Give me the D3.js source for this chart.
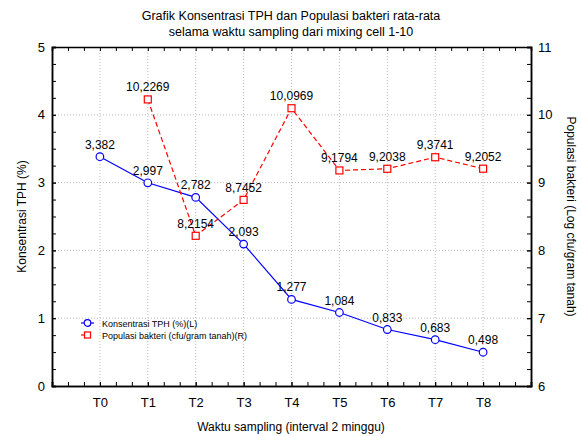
<!DOCTYPE html>
<html lang="en">
<head>
  <meta charset="UTF-8">
  <title>Grafik Konsentrasi TPH</title>
  <script src="https://d3js.org/d3.v7.min.js"></script>
  <style>
    body { margin: 0; background: #fff; }
    svg { font-family: "Liberation Sans", Arial, sans-serif; }
  </style>
</head>
<body>
  <svg width="582" height="436"></svg>

  <script>
    const categories = [`T0`, `T1`, `T2`, `T3`, `T4`, `T5`, `T6`, `T7`, `T8`];
    const tph = [3.382, 2.997, 2.782, 2.093, 1.277, 1.084, 0.833, 0.683, 0.498];
    const bakteri = [null, 10.2269, 8.2154, 8.7452, 10.0969, 9.1794, 9.2038, 9.3741, 9.2052];
    const leftTicks = [0, 1, 2, 3, 4, 5];
    const rightTicks = [6, 7, 8, 9, 10, 11];

    const margin = {top: 47, right: 51, bottom: 50, left: 52};
    const width = 582;
    const height = 436;

    const svg = d3.select(`svg`);
    const fmt = v => v.toString().replace(`.`, `,`);

    const xScale = d3.scaleLinear()
      .domain([-1, categories.length])
      .range([margin.left, width - margin.right]);
    const yLeft = d3.scaleLinear()
      .domain([0, 5])
      .range([height - margin.bottom, margin.top]);
    const yRight = d3.scaleLinear()
      .domain([6, 11])
      .range([height - margin.bottom, margin.top]);

    // grid
    const grid = svg.append(`g`)
      .attr(`stroke`, `#bdbdbd`)
      .attr(`stroke-dasharray`, `1,2`);
    grid.selectAll(`.gx`).data(categories).join(`line`)
      .attr(`x1`, (d, i) => xScale(i)).attr(`x2`, (d, i) => xScale(i))
      .attr(`y1`, margin.top).attr(`y2`, height - margin.bottom);
    grid.selectAll(`.gy`).data(leftTicks.slice(1, -1)).join(`line`)
      .attr(`x1`, margin.left).attr(`x2`, width - margin.right)
      .attr(`y1`, d => yLeft(d)).attr(`y2`, d => yLeft(d));

    // axes: minor ticks on every side, pointing inward
    const minorX = d3.range(-1, categories.length + 0.01, 1 / 3);
    const minorY = d3.range(0, 5.01, 0.25);

    const styleAxis = g => {
      g.select(`.domain`).attr(`stroke`, `#000`).attr(`stroke-width`, 1.5);
      g.selectAll(`.tick line`).attr(`stroke`, `#000`);
      g.selectAll(`text`).attr(`font-size`, 13).attr(`fill`, `#000`)
        .attr(`font-family`, `"Liberation Sans", Arial, sans-serif`);
    };

    svg.append(`g`)
      .attr(`transform`, `translate(0, ${height - margin.bottom})`)
      .call(d3.axisBottom(xScale).tickValues(minorX).tickSize(-4).tickFormat(``))
      .call(styleAxis);
    svg.append(`g`)
      .attr(`transform`, `translate(0, ${height - margin.bottom})`)
      .call(d3.axisBottom(xScale).tickValues(d3.range(categories.length))
        .tickSize(-4).tickPadding(12).tickFormat(i => categories[i]))
      .call(styleAxis);
    svg.append(`g`)
      .attr(`transform`, `translate(0, ${margin.top})`)
      .call(d3.axisTop(xScale).tickValues(minorX).tickSize(-4).tickFormat(``))
      .call(styleAxis);

    svg.append(`g`)
      .attr(`transform`, `translate(${margin.left}, 0)`)
      .call(d3.axisLeft(yLeft).tickValues(minorY).tickSize(-4).tickFormat(``))
      .call(styleAxis);
    svg.append(`g`)
      .attr(`transform`, `translate(${margin.left}, 0)`)
      .call(d3.axisLeft(yLeft).tickValues(leftTicks).tickSize(-4).tickPadding(7)
        .tickFormat(d3.format(`d`)))
      .call(styleAxis);

    svg.append(`g`)
      .attr(`transform`, `translate(${width - margin.right}, 0)`)
      .call(d3.axisRight(yRight).tickValues(d3.range(6, 11.01, 0.25)).tickSize(-4).tickFormat(``))
      .call(styleAxis);
    svg.append(`g`)
      .attr(`transform`, `translate(${width - margin.right}, 0)`)
      .call(d3.axisRight(yRight).tickValues(rightTicks).tickSize(-4).tickPadding(7)
        .tickFormat(d3.format(`d`)))
      .call(styleAxis);

    // TPH series (left axis)
    const tphLine = d3.line()
      .x((d, i) => xScale(i))
      .y(d => yLeft(d));
    svg.append(`path`)
      .attr(`d`, tphLine(tph))
      .attr(`fill`, `none`)
      .attr(`stroke`, `#0000ff`)
      .attr(`stroke-width`, 1.2);
    svg.selectAll(`.tphPt`).data(tph).join(`circle`)
      .attr(`cx`, (d, i) => xScale(i))
      .attr(`cy`, d => yLeft(d))
      .attr(`r`, 3.8)
      .attr(`fill`, `#fff`)
      .attr(`stroke`, `#0000ff`)
      .attr(`stroke-width`, 1.2);

    // bacteria series (right axis)
    const bakPts = bakteri.map((v, i) => ({i, v})).filter(d => d.v !== null);
    const bakLine = d3.line()
      .x(d => xScale(d.i))
      .y(d => yRight(d.v));
    svg.append(`path`)
      .attr(`d`, bakLine(bakPts))
      .attr(`fill`, `none`)
      .attr(`stroke`, `#ff0000`)
      .attr(`stroke-width`, 1.2)
      .attr(`stroke-dasharray`, `5,3`);
    svg.selectAll(`.bakPt`).data(bakPts).join(`rect`)
      .attr(`x`, d => xScale(d.i) - 3.5)
      .attr(`y`, d => yRight(d.v) - 3.5)
      .attr(`width`, 7)
      .attr(`height`, 7)
      .attr(`fill`, `#fff`)
      .attr(`stroke`, `#ff0000`)
      .attr(`stroke-width`, 1.2);

    // value labels
    svg.selectAll(`.tphLbl`).data(tph).join(`text`)
      .attr(`x`, (d, i) => xScale(i))
      .attr(`y`, d => yLeft(d) - 8)
      .attr(`text-anchor`, `middle`)
      .attr(`font-size`, 12)
      .text(d => fmt(d));
    svg.selectAll(`.bakLbl`).data(bakPts).join(`text`)
      .attr(`x`, d => xScale(d.i))
      .attr(`y`, d => yRight(d.v) - 8)
      .attr(`text-anchor`, `middle`)
      .attr(`font-size`, 12)
      .text(d => fmt(d.v));

    // title and axis labels
    svg.append(`text`)
      .attr(`x`, 291).attr(`y`, 20)
      .attr(`text-anchor`, `middle`).attr(`font-size`, 12.5)
      .text(`Grafik Konsentrasi TPH dan Populasi bakteri rata-rata`);
    svg.append(`text`)
      .attr(`x`, 291).attr(`y`, 36)
      .attr(`text-anchor`, `middle`).attr(`font-size`, 12.5)
      .text(`selama waktu sampling dari mixing cell 1-10`);
    svg.append(`text`)
      .attr(`x`, 291).attr(`y`, 431)
      .attr(`text-anchor`, `middle`).attr(`font-size`, 12)
      .text(`Waktu sampling (interval 2 minggu)`);
    svg.append(`text`)
      .attr(`transform`, `translate(26, ${(margin.top + height - margin.bottom) / 2}) rotate(-90)`)
      .attr(`text-anchor`, `middle`).attr(`font-size`, 12)
      .text(`Konsentrasi TPH (%)`);
    svg.append(`text`)
      .attr(`transform`, `translate(567, ${(margin.top + height - margin.bottom) / 2}) rotate(90)`)
      .attr(`text-anchor`, `middle`).attr(`font-size`, 12)
      .text(`Populasi bakteri (Log cfu/gram tanah)`);

    // legend
    const legend = svg.append(`g`).attr(`transform`, `translate(81, 323)`);
    legend.append(`line`).attr(`x1`, 0).attr(`x2`, 13)
      .attr(`stroke`, `#0000ff`).attr(`stroke-width`, 1.2);
    legend.append(`circle`).attr(`cx`, 6.5).attr(`r`, 3.3)
      .attr(`fill`, `#fff`).attr(`stroke`, `#0000ff`).attr(`stroke-width`, 1.2);
    legend.append(`text`).attr(`x`, 21).attr(`y`, 3.5).attr(`font-size`, 9)
      .text(`Konsentrasi TPH (%)(L)`);
    legend.append(`line`).attr(`x1`, 0).attr(`x2`, 4).attr(`y1`, 12).attr(`y2`, 12)
      .attr(`stroke`, `#ff0000`).attr(`stroke-width`, 1.2);
    legend.append(`rect`).attr(`x`, 3.5).attr(`y`, 9).attr(`width`, 6).attr(`height`, 6)
      .attr(`fill`, `#fff`).attr(`stroke`, `#ff0000`).attr(`stroke-width`, 1.2);
    legend.append(`text`).attr(`x`, 21).attr(`y`, 15.5).attr(`font-size`, 9)
      .text(`Populasi bakteri (cfu/gram tanah)(R)`);
  </script>
</body>
</html>
